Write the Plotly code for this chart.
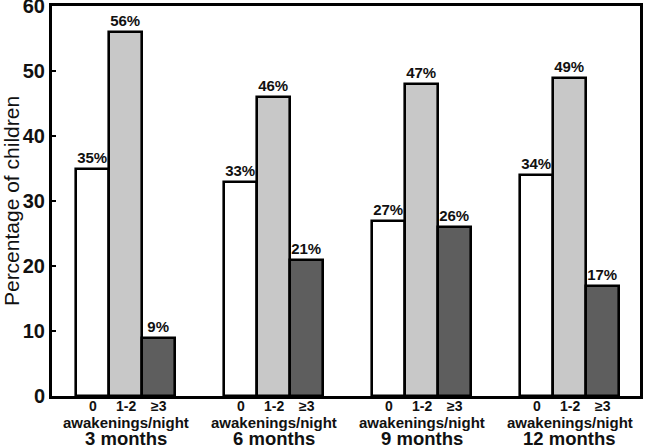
import plotly.graph_objects as go

groups = ["3 months", "6 months", "9 months", "12 months"]
categories = ["0", "1-2", "≥3"]
series_values = {
    "0": [35, 33, 27, 34],
    "1-2": [56, 46, 48, 49],
    "≥3": [9, 21, 26, 17],
}
series_labels = {
    "0": ["35%", "33%", "27%", "34%"],
    "1-2": ["56%", "46%", "47%", "49%"],
    "≥3": ["9%", "21%", "26%", "17%"],
}
colors = {"0": "#ffffff", "1-2": "#c8c8c8", "≥3": "#5e5e5e"}
y_ticks = [0, 10, 20, 30, 40, 50, 60]

bw = 0.223
offsets = {"0": -bw, "1-2": 0.0, "≥3": bw}

fig = go.Figure()
for cat in categories:
    xs = [i + offsets[cat] for i in range(len(groups))]
    fig.add_trace(go.Bar(
        x=xs, y=series_values[cat], width=bw,
        marker=dict(color=colors[cat], line=dict(color="black", width=2.6)),
        text=series_labels[cat], textposition="outside",
        texttemplate="<b>%{text}</b>",
        textfont=dict(family="Arial", size=15, color="#111"),
        cliponaxis=False, showlegend=False, hoverinfo="skip",
    ))
    for x in xs:
        fig.add_annotation(x=x, y=0, xref="x", yref="paper", yanchor="middle",
                           yshift=-10, text="<b>" + cat + "</b>", showarrow=False,
                           font=dict(family="Arial", size=14, color="#111"))

for i, g in enumerate(groups):
    fig.add_annotation(x=i, y=0, xref="x", yref="paper", yanchor="middle",
                       yshift=-26, text="<b>awakenings/night</b>", showarrow=False,
                       font=dict(family="Arial", size=15, color="#111"))
    fig.add_annotation(x=i, y=0, xref="x", yref="paper", yanchor="middle",
                       yshift=-42, text="<b>" + g + "</b>", showarrow=False,
                       font=dict(family="Arial", size=18.5, color="#111"))

fig.update_layout(
    width=646, height=448,
    margin=dict(l=52, r=6, t=6, b=52, autoexpand=False),
    plot_bgcolor="white", paper_bgcolor="white",
    bargap=0,
)
fig.update_xaxes(range=[-0.497, 3.476], showticklabels=False, ticks="",
                 showline=True, mirror=True, linecolor="black", linewidth=3,
                 showgrid=False, zeroline=False, automargin=False)
fig.update_yaxes(range=[0, 60], tickvals=y_ticks, ticktext=["<b>%d</b>" % t for t in y_ticks],
                 tickfont=dict(family="Arial", size=20, color="#111"),
                 ticks="inside", ticklen=4, tickwidth=2, tickcolor="black",
                 ticklabeloverflow="allow",
                 showline=True, mirror=True, linecolor="black", linewidth=3,
                 showgrid=False, zeroline=False, automargin=False,
                 title=dict(text="Percentage of children", font=dict(family="Arial", size=21, color="#111"), standoff=2))

fig.write_html("out.html", config={"displayModeBar": False},
               post_script="document.body.style.margin='0';document.body.style.overflow='hidden';")
